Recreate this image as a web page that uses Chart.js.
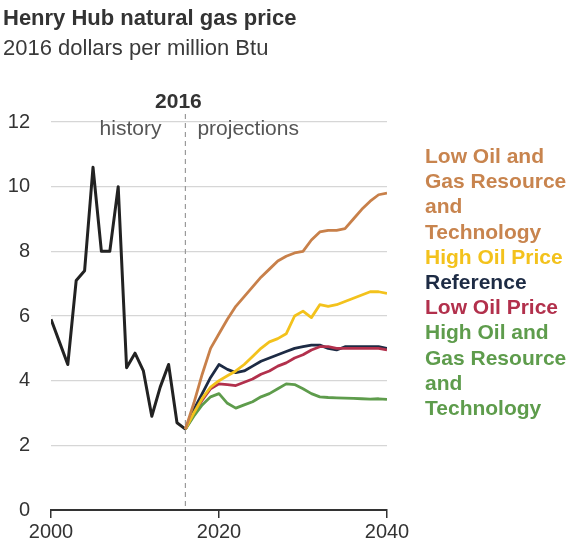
<!DOCTYPE html>
<html>
<head>
<meta charset="utf-8">
<script src="https://cdn.jsdelivr.net/npm/chart.js@4/dist/chart.umd.min.js"></script>
<style>
  body { margin: 0; background: #fff; }
  #wrap { width: 574px; height: 548px; }
</style>
</head>
<body>
<div id="wrap"><canvas id="chart" width="574" height="548"></canvas></div>
<script>
// values, 2016 dollars per million Btu
let history_years = [2000, 2001, 2002, 2003, 2004, 2005, 2006, 2007, 2008,
                     2009, 2010, 2011, 2012, 2013, 2014, 2015, 2016];
let history_prices = [5.9, 5.2, 4.5, 7.1, 7.4, 10.6, 8.0, 8.0, 10.0,
                      4.4, 4.85, 4.3, 2.9, 3.8, 4.5, 2.7, 2.5];

let projection_years = [2016, 2017, 2018, 2019, 2020, 2021, 2022, 2023, 2024,
                        2025, 2026, 2027, 2028, 2029, 2030, 2031, 2032, 2033,
                        2034, 2035, 2036, 2037, 2038, 2039, 2040];

let low_resource = [2.5, 3.3, 4.2, 5.0, 5.45, 5.9, 6.3, 6.6, 6.9,
                    7.2, 7.45, 7.7, 7.85, 7.95, 8.0, 8.35, 8.6, 8.65,
                    8.65, 8.7, 9.0, 9.3, 9.55, 9.75, 9.8];
let high_oil = [2.5, 3.0, 3.45, 3.8, 4.0, 4.15, 4.3, 4.5, 4.75,
                5.0, 5.2, 5.3, 5.45, 6.0, 6.15, 5.95, 6.35, 6.3,
                6.35, 6.45, 6.55, 6.65, 6.75, 6.75, 6.7];
let reference = [2.5, 3.1, 3.6, 4.1, 4.5, 4.35, 4.25, 4.3, 4.45,
                 4.6, 4.7, 4.8, 4.9, 5.0, 5.05, 5.1, 5.1, 5.0,
                 4.95, 5.05, 5.05, 5.05, 5.05, 5.05, 5.0];
let low_oil = [2.5, 2.95, 3.4, 3.75, 3.9, 3.88, 3.85, 3.95, 4.05,
               4.2, 4.3, 4.45, 4.55, 4.7, 4.8, 4.95, 5.05, 5.05,
               5.0, 5.0, 5.0, 5.0, 5.0, 5.0, 4.95];
let high_resource = [2.5, 2.9, 3.25, 3.5, 3.6, 3.3, 3.15, 3.25, 3.35,
                     3.5, 3.6, 3.75, 3.9, 3.88, 3.75, 3.6, 3.5, 3.48,
                     3.47, 3.46, 3.45, 3.44, 3.43, 3.44, 3.42];

let y_ticks = [0, 2, 4, 6, 8, 10, 12];
let x_ticks = [2000, 2020, 2040];

// legend lines, top to bottom
let legend_lines = [
  ["Low Oil and", "#c8844e"], ["Gas Resource", "#c8844e"], ["and", "#c8844e"], ["Technology", "#c8844e"],
  ["High Oil Price", "#f3c21c"],
  ["Reference", "#1d2b44"],
  ["Low Oil Price", "#b2304c"],
  ["High Oil and", "#5e9c4c"], ["Gas Resource", "#5e9c4c"], ["and", "#5e9c4c"], ["Technology", "#5e9c4c"]
];

const FONT = "'Liberation Sans', Arial, sans-serif";

function toPoints(years, values)
{
  return years.map((yr, i) => ({ x: yr, y: values[i] }));
}

function series(values, color)
{
  return {
    data: toPoints(projection_years, values),
    borderColor: color,
    borderWidth: 2.8,
    pointRadius: 0,
    tension: 0,
    borderJoinStyle: "round"
  };
}

const annotations = {
  id: "annotations",
  beforeDatasetsDraw(chart)
  {
    let ctx = chart.ctx;
    let x = chart.scales.x.getPixelForValue(2016);
    ctx.save();
    ctx.strokeStyle = "#9a9a9a";
    ctx.lineWidth = 1.2;
    ctx.setLineDash([5, 4]);
    ctx.beginPath();
    ctx.moveTo(x, 114);
    ctx.lineTo(x, chart.chartArea.bottom);
    ctx.stroke();
    ctx.restore();
  },
  afterDraw(chart)
  {
    let ctx = chart.ctx;
    let x = chart.scales.x.getPixelForValue(2016);
    ctx.save();
    ctx.textBaseline = "alphabetic";

    // title block
    ctx.textAlign = "left";
    ctx.fillStyle = "#333";
    ctx.font = "bold 22px " + FONT;
    ctx.fillText("Henry Hub natural gas price", 3, 25);
    ctx.fillStyle = "#3a3a3a";
    ctx.font = "22px " + FONT;
    ctx.fillText("2016 dollars per million Btu", 3, 55);

    // history / projections marker
    ctx.textAlign = "center";
    ctx.fillStyle = "#333";
    ctx.font = "bold 21px " + FONT;
    ctx.fillText("2016", x - 7, 108);
    ctx.font = "21px " + FONT;
    ctx.fillStyle = "#555";
    ctx.textAlign = "right";
    ctx.fillText("history", x - 24, 135);
    ctx.textAlign = "left";
    ctx.fillText("projections", x + 12, 135);

    // right-hand labels
    ctx.font = "bold 21px " + FONT;
    legend_lines.forEach((line, it) => {
      ctx.fillStyle = line[1];
      ctx.fillText(line[0], 425, 163 + it * 25.2);
    });
    ctx.restore();
  }
};

let chart = new Chart(document.getElementById("chart"), {
  type: "line",
  data: {
    datasets: [
      series(low_resource, "#c8804a"),
      series(high_oil, "#f3c21c"),
      series(high_resource, "#5e9c4c"),
      series(low_oil, "#b2304c"),
      series(reference, "#1d2b44"),
      {
        data: toPoints(history_years, history_prices),
        borderColor: "#222",
        borderWidth: 3,
        pointRadius: 0,
        tension: 0,
        borderJoinStyle: "round"
      }
    ]
  },
  options: {
    responsive: false,
    animation: false,
    devicePixelRatio: 1,
    layout: { padding: { top: 122, right: 187, left: 0, bottom: 0 } },
    plugins: {
      legend: { display: false },
      tooltip: { enabled: false }
    },
    scales: {
      x: {
        type: "linear",
        min: 2000,
        max: 2040,
        afterFit: (s) => { s.height = 38; },
        afterBuildTicks: (s) => { s.ticks = x_ticks.map(v => ({ value: v })); },
        grid: { drawOnChartArea: false, drawTicks: true, tickLength: 8, color: "#333", lineWidth: 1.5 },
        border: { display: true, color: "#333", width: 2 },
        ticks: {
          padding: 2,
          maxRotation: 0,
          color: "#333",
          font: { family: FONT, size: 20 },
          callback: (v) => String(v)
        }
      },
      y: {
        min: 0,
        max: 12,
        afterFit: (s) => { s.width = 51; },
        afterBuildTicks: (s) => { s.ticks = y_ticks.map(v => ({ value: v })); },
        grid: { drawTicks: false, color: "#d6d6d6", lineWidth: 1.2 },
        border: { display: false },
        ticks: {
          padding: 21,
          color: "#333",
          font: { family: FONT, size: 20 }
        }
      }
    }
  },
  plugins: [annotations]
});
</script>
</body>
</html>
